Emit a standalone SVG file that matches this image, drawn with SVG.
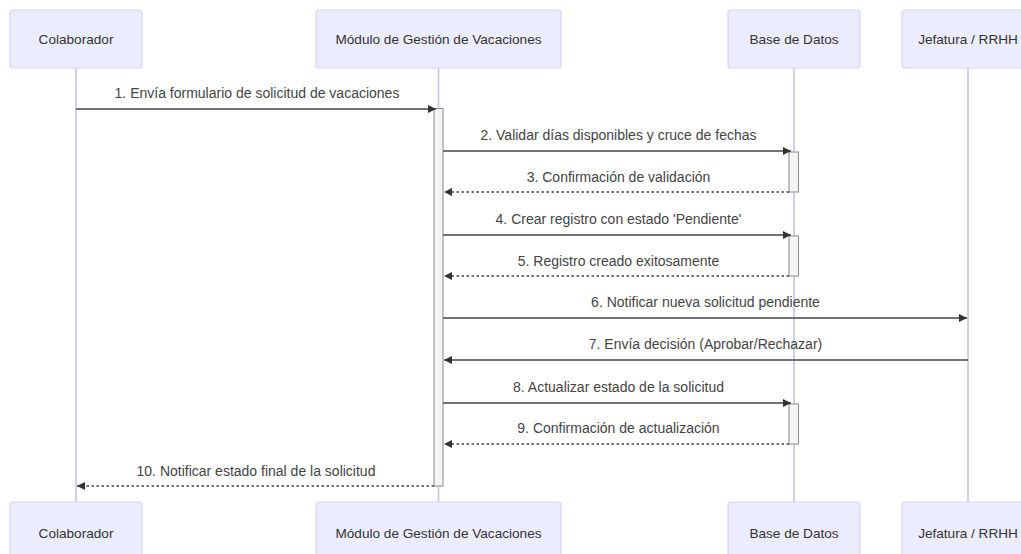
<svg xmlns="http://www.w3.org/2000/svg" width="1021" height="554" viewBox="0 0 1021 554">
  <style>
    .actor { fill: #ececff; stroke: #d9d2f4; stroke-width: 1.2; }
    .actor-label { font-family: "Liberation Sans", Arial, sans-serif; font-size: 13.6px; fill: #333; text-anchor: middle; dominant-baseline: central; }
    .lifeline { stroke: #cbc2ec; stroke-width: 1.6; }
    .activation { fill: #f4f4f4; stroke: #8a8a8a; stroke-width: 1; }
    .msg { stroke: #444; stroke-width: 1.5; fill: none; }
    .msg.dotted { stroke-dasharray: 2.5 2.5; }
    .msg-label { font-family: "Liberation Sans", Arial, sans-serif; font-size: 14px; fill: #444; text-anchor: middle; dominant-baseline: central; }
  </style>
  <defs>
    <marker id="arrowhead" viewBox="0 0 10 10" refX="10" refY="5" markerWidth="10" markerHeight="8" markerUnits="userSpaceOnUse" orient="auto">
      <path d="M0 0 L10 5 L0 10 z" fill="#333"/>
    </marker>
  </defs>

  <rect width="1021" height="554" fill="#ffffff"/>

  <!-- lifelines -->
  <g id="lifelines">
    <line class="lifeline" x1="76" y1="68" x2="76" y2="502"/>
    <line class="lifeline" x1="438.5" y1="68" x2="438.5" y2="502"/>
    <line class="lifeline" x1="794" y1="68" x2="794" y2="502"/>
    <line class="lifeline" x1="968" y1="68" x2="968" y2="502"/>
  </g>

  <!-- participants (top) -->
  <g id="colaborador-top">
    <rect class="actor" x="10" y="10" width="132" height="58" rx="3"/>
    <text class="actor-label" x="76" y="39.5">Colaborador</text>
  </g>
  <g id="modulo-top">
    <rect class="actor" x="316" y="10" width="245" height="58" rx="3"/>
    <text class="actor-label" x="438.5" y="39.5">Módulo de Gestión de Vacaciones</text>
  </g>
  <g id="basedatos-top">
    <rect class="actor" x="728" y="10" width="132" height="58" rx="3"/>
    <text class="actor-label" x="794" y="39.5">Base de Datos</text>
  </g>
  <g id="jefatura-top">
    <rect class="actor" x="902" y="10" width="132" height="58" rx="3"/>
    <text class="actor-label" x="968" y="39.5">Jefatura / RRHH</text>
  </g>

  <!-- activation bars -->
  <g id="activations">
    <rect class="activation" x="434" y="108.5" width="9" height="377.5"/>
    <rect class="activation" x="789" y="152" width="9.5" height="40"/>
    <rect class="activation" x="789" y="236" width="9.5" height="40"/>
    <rect class="activation" x="789" y="404" width="9.5" height="40"/>
  </g>

  <!-- messages -->
  <g id="connectors">
    <line class="msg" x1="76" y1="109" x2="436" y2="109" marker-end="url(#arrowhead)"/>
    <line class="msg" x1="443" y1="151" x2="791" y2="151" marker-end="url(#arrowhead)"/>
    <line class="msg dotted" x1="789" y1="192" x2="444" y2="192" marker-end="url(#arrowhead)"/>
    <line class="msg" x1="443" y1="235" x2="791" y2="235" marker-end="url(#arrowhead)"/>
    <line class="msg dotted" x1="789" y1="276" x2="444" y2="276" marker-end="url(#arrowhead)"/>
    <line class="msg" x1="443" y1="318" x2="967" y2="318" marker-end="url(#arrowhead)"/>
    <line class="msg" x1="968" y1="360" x2="444" y2="360" marker-end="url(#arrowhead)"/>
    <line class="msg" x1="443" y1="403" x2="791" y2="403" marker-end="url(#arrowhead)"/>
    <line class="msg dotted" x1="789" y1="444" x2="444" y2="444" marker-end="url(#arrowhead)"/>
    <line class="msg dotted" x1="434" y1="486" x2="77" y2="486" marker-end="url(#arrowhead)"/>
  </g>

  <g id="message-labels">
    <text class="msg-label" x="257" y="93">1. Envía formulario de solicitud de vacaciones</text>
    <text class="msg-label" x="618.5" y="135">2. Validar días disponibles y cruce de fechas</text>
    <text class="msg-label" x="618.5" y="177">3. Confirmación de validación</text>
    <text class="msg-label" x="618.5" y="219">4. Crear registro con estado 'Pendiente'</text>
    <text class="msg-label" x="618.5" y="260.5">5. Registro creado exitosamente</text>
    <text class="msg-label" x="705.5" y="302">6. Notificar nueva solicitud pendiente</text>
    <text class="msg-label" x="705.5" y="344">7. Envía decisión (Aprobar/Rechazar)</text>
    <text class="msg-label" x="618.5" y="386.5">8. Actualizar estado de la solicitud</text>
    <text class="msg-label" x="618.5" y="428">9. Confirmación de actualización</text>
    <text class="msg-label" x="256" y="470.5">10. Notificar estado final de la solicitud</text>
  </g>

  <!-- participants (bottom) -->
  <g id="colaborador-bottom">
    <rect class="actor" x="10" y="502" width="132" height="58" rx="3"/>
    <text class="actor-label" x="76" y="533">Colaborador</text>
  </g>
  <g id="modulo-bottom">
    <rect class="actor" x="316" y="502" width="245" height="58" rx="3"/>
    <text class="actor-label" x="438.5" y="533">Módulo de Gestión de Vacaciones</text>
  </g>
  <g id="basedatos-bottom">
    <rect class="actor" x="728" y="502" width="132" height="58" rx="3"/>
    <text class="actor-label" x="794" y="533">Base de Datos</text>
  </g>
  <g id="jefatura-bottom">
    <rect class="actor" x="902" y="502" width="132" height="58" rx="3"/>
    <text class="actor-label" x="968" y="533">Jefatura / RRHH</text>
  </g>
</svg>
